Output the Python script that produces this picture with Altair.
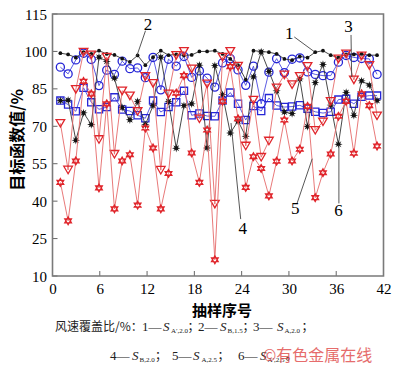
import math
import altair as alt
import pandas as pd

# ---------------- data ----------------
sample = list(range(1, 43))

s1_dots = [99.3, 98.8, 97.5, 99.7, 99.0, 100.3, 99.0, 98.6, 97.1, 95.8, 98.4, 94.5, 97.7, 100.3,
           98.5, 98.8, 98.4, 98.6, 100.0, 100.0, 100.3, 99.0, 97.0, 94.5, 88.7, 100.3, 100.0, 99.7,
           99.0, 97.0, 96.5, 98.0, 97.5, 99.7, 100.3, 98.5, 97.5, 98.8, 98.8, 99.0, 98.5, 98.5]
s2_circles = [93.7, 91.0, 96.6, 99.3, 96.8, 86.3, 92.5, 90.8, 96.1, 93.1, 93.4, 89.5, 97.6, 84.6,
              96.9, 94.1, 98.0, 89.6, 92.2, 89.3, 85.7, 95.4, 97.1, 92.6, 86.4, 94.1, 79.0, 91.7,
              97.1, 91.5, 96.9, 97.4, 91.8, 90.8, 90.3, 90.3, 95.7, 98.4, 97.6, 97.2, 97.0, 90.8]
s3_triangles = [71.2, 52.5, 84.8, 99.7, 98.6, 64.7, 97.7, 58.8, 84.2, 82.2, 76.0, 90.0, 87.2, 52.4,
                83.0, 98.4, 100.0, 93.0, 73.0, 87.0, 38.8, 97.7, 100.0, 94.1, 62.1, 80.5, 57.6, 64.1,
                85.4, 90.6, 86.7, 90.0, 94.0, 68.4, 71.8, 80.0, 97.0, 99.0, 88.6, 98.2, 94.4, 74.2]
s4_squares = [80.3, 78.7, 76.0, 85.4, 79.6, 76.8, 77.7, 81.6, 76.7, 76.1, 74.4, 73.2, 80.3, 75.7,
              77.7, 79.6, 84.2, 74.4, 75.1, 74.1, 74.0, 80.3, 83.5, 79.0, 72.5, 78.1, 76.1, 81.3,
              78.3, 77.7, 77.9, 78.4, 77.0, 75.8, 75.3, 75.8, 80.7, 81.0, 79.0, 81.8, 82.3, 82.3]
s5_hexstars = [47.5, 32.1, 56.1, 88.0, 83.0, 45.3, 79.0, 36.9, 56.1, 58.6, 38.4, 69.3, 61.3, 36.9,
               51.1, 83.3, 90.3, 59.3, 47.5, 68.5, 16.5, 80.0, 93.9, 73.0, 45.5, 57.8, 53.1, 42.1,
               56.0, 72.5, 56.1, 60.8, 78.0, 41.4, 51.4, 58.9, 74.0, 80.0, 59.2, 83.0, 78.3, 62.1]
s6_stars = [80.3, 80.5, 64.4, 75.4, 70.7, 97.7, 96.0, 89.3, 77.5, 72.6, 80.0, 70.6, 78.3, 97.7,
            80.0, 61.2, 78.3, 79.0, 94.5, 61.3, 94.3, 82.7, 67.3, 72.1, 66.0, 89.8, 99.8, 92.0,
            84.2, 75.7, 75.1, 89.0, 69.9, 87.5, 94.8, 78.5, 62.8, 83.6, 74.4, 88.2, 86.5, 80.3]

x_ticks = [0, 6, 12, 18, 24, 30, 36, 42]
y_ticks = [10, 25, 40, 55, 70, 85, 100, 115]

# series number labels and their leader lines (in data coordinates)
label_text = ["1", "2", "3", "4", "5", "6"]
label_x = [30.05, 12.13, 37.55, 24.13, 30.8, 36.3]
label_y = [107.1, 110.6, 109.7, 28.9, 36.9, 35.9]
lead_x1 = [30.68, 11.80, 37.88, 23.88, 31.03, 36.34]
lead_y1 = [105.8, 108.3, 106.6, 32.8, 39.1, 39.1]
lead_x2 = [33.18, 10.68, 37.96, 22.65, 32.96, 36.34]
lead_y2 = [100.0, 98.0, 89.7, 71.3, 57.0, 62.4]

# ---------------- layout ----------------
W, H = 331, 262
xs = alt.Scale(domain=[0, 42], nice=False, zero=False)
ys = alt.Scale(domain=[10, 115], nice=False, zero=False)

x_axis = alt.Axis(values=x_ticks, ticks=False, domain=False, grid=False, title=None,
                  labelFont="Liberation Serif", labelFontSize=15, labelColor="black",
                  labelPadding=5, labelFlush=False, labelOverlap=False)
y_axis = alt.Axis(values=y_ticks, ticks=False, domain=False, grid=False, title=None,
                  labelFont="Liberation Serif", labelFontSize=15, labelColor="black",
                  labelPadding=6, labelFlush=False, labelOverlap=False)

HEX = "M0,-1L0.866,0.5L-0.866,0.5ZM0,1L-0.866,-0.5L0.866,-0.5Z"
pts = []
for i in range(16):
    r = 1.0 if i % 2 == 0 else 0.42
    a = i * math.pi / 8 - math.pi / 2
    pts.append(f"{r*math.cos(a):.3f},{r*math.sin(a):.3f}")
STAR = "M" + "L".join(pts) + "Z"

BLUE = "#2626d6"
RED = "#e0252b"
RED_LINE = "#e56a6a"
BLUE_LINE = "#4a4ae0"
BLACK = "#111111"


def series(vals, line_color, shape, filled, size, mcolor, sw=1.3):
    df = pd.DataFrame({"sample": sample, "v": vals})
    base = alt.Chart(df).transform_calculate(pos="0.02 + 0.98 * datum.sample")
    enc = dict(x=alt.X("pos:Q", scale=xs, axis=x_axis), y=alt.Y("v:Q", scale=ys, axis=y_axis))
    line = base.mark_line(color=line_color, strokeWidth=0.9).encode(**enc)
    if filled:
        pt = base.mark_point(shape=shape, filled=True, size=size, color=mcolor, opacity=1).encode(**enc)
    else:
        pt = base.mark_point(shape=shape, filled=False, size=size, color=mcolor,
                             strokeWidth=sw, opacity=1).encode(**enc)
    return [line, pt]


frame = alt.Chart(pd.DataFrame({"a": [0]})).mark_rect(
    filled=False, stroke="#7a7a7a", strokeWidth=1.6).encode(
    x=alt.value(0), x2=alt.value(W), y=alt.value(0), y2=alt.value(H))

xt = alt.Chart(pd.DataFrame({"t": x_ticks})).mark_rule(color="#666666", strokeWidth=1).encode(
    x=alt.X("t:Q", scale=xs, axis=x_axis), y=alt.value(H), y2=alt.value(H - 5))
yt = alt.Chart(pd.DataFrame({"t": y_ticks})).mark_rule(color="#666666", strokeWidth=1).encode(
    y=alt.Y("t:Q", scale=ys, axis=y_axis), x=alt.value(0), x2=alt.value(5))

layers = [xt, yt]
layers += series(s4_squares, BLUE_LINE, "square", False, 52, BLUE)
layers += series(s2_circles, BLUE_LINE, "circle", False, 66, BLUE)
layers += series(s6_stars, "#333333", STAR, True, 70, BLACK)
layers += series(s1_dots, "#333333", "circle", True, 14, BLACK)
layers += series(s3_triangles, RED_LINE, "triangle-down", False, 75, RED)
layers += series(s5_hexstars, RED_LINE, HEX, False, 62, RED, 1.2)
layers.append(frame)

# leader lines and numbers, through the data scales
lead_df = pd.DataFrame({"x1": lead_x1, "y1": lead_y1, "x2": lead_x2, "y2": lead_y2})
layers.append(alt.Chart(lead_df).mark_rule(color="#444444", strokeWidth=0.9).encode(
    x=alt.X("x1:Q", scale=xs, axis=x_axis), y=alt.Y("y1:Q", scale=ys, axis=y_axis),
    x2="x2:Q", y2="y2:Q"))
lab_df = pd.DataFrame({"lx": label_x, "ly": label_y, "t": label_text})
layers.append(alt.Chart(lab_df).mark_text(font="Liberation Serif", fontSize=17, color="black").encode(
    x=alt.X("lx:Q", scale=xs, axis=x_axis), y=alt.Y("ly:Q", scale=ys, axis=y_axis), text="t:N"))


def pix_text(rows, **kw):
    df = pd.DataFrame(rows, columns=["px", "py", "t"])
    return alt.Chart(df).mark_text(**kw).encode(
        x=alt.X("px:Q", scale=None),
        y=alt.Y("py:Q", scale=None),
        text="t:N")


# axis titles (pixel positions relative to the plot area)
layers.append(pix_text([(-35, 126, "目标函数值/%")], font="Noto Sans CJK SC", fontSize=16,
                       fontWeight="bold", angle=270, color="black"))
layers.append(pix_text([(169.5, 297, "抽样序号")], font="Noto Sans CJK SC", fontSize=15,
                       fontWeight="bold", color="black"))

# caption
L1, L2 = 313, 342
cjk_rows = [(2.5, L1, "风速覆盖比/%："), (135, L1, "；"), (190, L1, "；"), (249, L1, "；"),
            (102.5, L2, "；"), (165, L2, "；"), (233, L2, "。")]
num_rows = [(89.5, L1, "1—"), (145.5, L1, "2—"), (200.5, L1, "3—"),
            (57.5, L2, "4—"), (119.5, L2, "5—"), (185.5, L2, "6—")]
s_rows = [(110.5, L1, "S"), (167.5, L1, "S"), (224.5, L1, "S"),
          (79.5, L2, "S"), (140.5, L2, "S"), (207.5, L2, "S")]
sub_rows = [(118.5, L1 + 4, "A′,2.0"), (175, L1 + 4, "B,1.5"), (232, L1 + 4, "A,2.0"),
            (87, L2 + 4, "B,2.0"), (149, L2 + 4, "A,2.5"), (215, L2 + 4, "A′,2.5")]
layers.append(pix_text(cjk_rows, font="Noto Sans CJK SC", fontSize=12, align="left",
                       baseline="middle", color="#222222"))
layers.append(pix_text(num_rows, font="Liberation Serif", fontSize=13, align="left",
                       baseline="middle", color="#222222"))
layers.append(pix_text(s_rows, font="Liberation Serif", fontSize=13, fontStyle="italic",
                       align="left", baseline="middle", color="#222222"))
layers.append(pix_text(sub_rows, font="Liberation Serif", fontSize=7, align="left",
                       baseline="middle", color="#222222"))
layers.append(pix_text([(210.5, L2, "©有色金属在线")], font="Noto Sans CJK SC", fontSize=16,
                       align="left", baseline="middle", color="#e04848", opacity=0.8))

chart = alt.layer(*layers).properties(
    width=W, height=H,
    padding={"left": 44.5, "top": 6, "right": 8, "bottom": 89},
    autosize=alt.AutoSizeParams(type="none"),
).configure_view(strokeWidth=0)

chart.save("out.html", embed_options={"renderer": "svg", "actions": False})
